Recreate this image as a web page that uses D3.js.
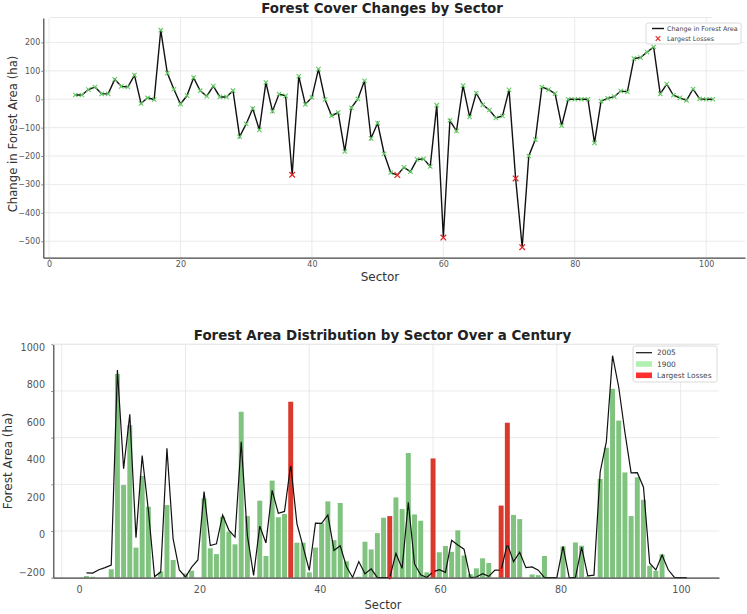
<!DOCTYPE html>
<html><head><meta charset="utf-8">
<script src="https://cdn.jsdelivr.net/npm/d3@7"></script>
<style>body{margin:0;background:#fff}svg{display:block}text{font-family:"DejaVu Sans",sans-serif}</style>
</head><body><svg id="c" width="747" height="614"></svg>
<script>
const sectors = [4,5,6,7,8,9,10,11,12,13,14,15,16,17,18,19,20,21,22,23,24,25,26,27,28,29,30,31,32,33,34,35,36,37,38,39,40,41,42,43,44,45,46,47,48,49,50,51,52,53,54,55,56,57,58,59,60,61,62,63,64,65,66,67,68,69,70,71,72,73,74,75,76,77,78,79,80,81,82,83,84,85,86,87,88,89,90,91,92,93,94,95,96,97,98,99,100,101];
const change = [15,15,34,43,19,19,70,45,43,85,-15,5,-1,243,92,35,-17,13,76,30,11,46,8,8,30,-132,-87,-33,-108,59,-42,18,12,-266,81,-18,6,106,-1,-58,-47,-184,-30,1,65,-138,-84,-192,-259,-267,-240,-255,-212,-210,-237,-21,-487,-75,-112,48,-62,22,-20,-38,-66,-59,33,-279,-521,-200,-142,43,34,20,-93,0,0,0,0,-154,-7,3,9,29,26,143,147,166,184,19,53,14,5,-4,36,1,0,0];
const area1900 = [7,4,0,0,36,873,397,654,129,436,304,0,26,311,76,0,18,30,0,340,126,101,261,197,143,711,264,0,330,93,416,259,273,754,150,150,23,129,233,327,161,320,70,0,4,154,121,191,257,264,344,294,534,271,244,23,511,109,136,111,203,95,15,40,83,63,0,309,664,269,251,0,14,11,93,0,0,134,0,151,137,5,2,423,557,809,673,451,264,430,334,51,29,100,0,0,0,0];
const area2005 = [21,20,34,43,54,890,467,700,171,523,289,5,24,554,166,33,3,45,76,369,138,145,269,204,174,582,180,10,221,149,374,276,284,485,232,133,31,234,233,269,117,137,48,1,69,17,38,0,0,0,104,40,323,59,12,1,25,34,23,160,140,122,0,3,17,6,33,32,145,69,109,43,46,32,0,0,0,134,0,0,131,8,11,453,583,951,816,622,449,450,388,62,33,97,34,1,0,0];
const lossSectors = [37,53,60,71,72];
const topYTicks = [-500,-400,-300,-200,-100,0,100,200];
const xTicks = [0,20,40,60,80,100];
const botGridTicks = [0,200,400,600,800,1000];
const botYLabels = [-200,0,200,400,600,800,1000];

const svg = d3.select("#c");
const isLoss = s => lossSectors.includes(s);
const grid = "#e4e4e4";
const fmt = d3.format("d");

// ---------- Top chart ----------
const x1 = d3.scaleLinear().domain([-0.87,105.9]).range([43.3,745]);
const y1 = d3.scaleLinear().domain([-558,286]).range([257.7,18]);
const g1 = svg.append("g");
g1.selectAll(".hg").data(topYTicks).join("line")
  .attr("x1",43.3).attr("x2",745).attr("y1",d=>y1(d)).attr("y2",d=>y1(d))
  .attr("stroke",grid).attr("stroke-width",0.8);
g1.selectAll(".vg").data(xTicks).join("line")
  .attr("x1",d=>x1(d)).attr("x2",d=>x1(d)).attr("y1",18).attr("y2",257.7)
  .attr("stroke",grid).attr("stroke-width",0.8);
g1.append("line").attr("x1",50).attr("x2",712).attr("y1",17.5).attr("y2",17.5).attr("stroke","#e8e8e8");

const ax1y = g1.append("g").attr("transform","translate(43.3,0)")
  .call(d3.axisLeft(y1).tickValues(topYTicks).tickFormat(fmt).tickSizeInner(2).tickSizeOuter(0).tickPadding(1));
const ax1x = g1.append("g").attr("transform","translate(0,257.7)")
  .call(d3.axisBottom(x1).tickValues(xTicks).tickFormat(fmt).tickSizeInner(2).tickSizeOuter(0).tickPadding(1.5));
[ax1y,ax1x].forEach(a=>{
  a.select(".domain").attr("stroke","#444").attr("stroke-width",1.2);
  a.selectAll(".tick line").attr("stroke","#888");
  a.selectAll("text").attr("font-size",8).attr("fill","#555").attr("font-family","DejaVu Sans");
});

const line1 = d3.line().x((d,i)=>x1(sectors[i])).y(d=>y1(d));
g1.append("path").datum(change).attr("d",line1).attr("fill","none").attr("stroke","#111").attr("stroke-width",1.4);
const xMark = (g, cx, cy, r, col, w) => {
  g.append("path").attr("d",`M${cx-r},${cy-r}L${cx+r},${cy+r}M${cx-r},${cy+r}L${cx+r},${cy-r}`)
   .attr("stroke",col).attr("stroke-width",w);
};
sectors.forEach((s,i)=>{
  if(isLoss(s)) xMark(g1, x1(s), y1(change[i]), 2.8, "#e02a2a", 1.3);
  else xMark(g1, x1(s), y1(change[i]), 2.2, "#62cc62", 1.1);
});

g1.append("text").attr("x",382).attr("y",13.3).attr("text-anchor","middle")
  .attr("font-size",13.4).attr("font-weight","bold").attr("fill","#222").text("Forest Cover Changes by Sector");
g1.append("text").attr("x",380).attr("y",281).attr("text-anchor","middle")
  .attr("font-size",12).attr("fill","#333").text("Sector");
g1.append("text").attr("transform","translate(17,134) rotate(-90)").attr("text-anchor","middle")
  .attr("font-size",11.7).attr("fill","#333").text("Change in Forest Area (ha)");

// top legend
const l1 = g1.append("g");
l1.append("rect").attr("x",646).attr("y",23).attr("width",95).attr("height",21).attr("rx",2)
  .attr("fill","#fff").attr("stroke","#d0d0d0").attr("stroke-width",0.8);
l1.append("line").attr("x1",652).attr("x2",664).attr("y1",28.5).attr("y2",28.5).attr("stroke","#111").attr("stroke-width",1.4);
xMark(l1, 658, 38.5, 2.3, "#e02a2a", 1.2);
l1.append("text").attr("x",667).attr("y",28.5).attr("dy","0.35em").attr("font-size",6.4).attr("fill","#444").text("Change in Forest Area");
l1.append("text").attr("x",667).attr("y",38.5).attr("dy","0.35em").attr("font-size",6.4).attr("fill","#444").text("Largest Losses");

// ---------- Bottom chart ----------
const x2 = d3.scaleLinear().domain([-1.36,106.2]).range([53.3,719]);
const y2 = d3.scaleLinear().domain([0,1000]).range([577.7,344.3]);
const xLab = d3.scaleLinear().domain([0,100]).range([79,681]);
const yLab = d3.scaleLinear().domain([-200,1000]).range([572,347]);
const g2 = svg.append("g");
g2.selectAll(".hg").data(botGridTicks).join("line")
  .attr("x1",53.3).attr("x2",719).attr("y1",d=>y2(d)).attr("y2",d=>y2(d))
  .attr("stroke",grid).attr("stroke-width",0.8);
g2.selectAll(".vg").data(xTicks).join("line")
  .attr("x1",d=>x2(d)).attr("x2",d=>x2(d)).attr("y1",344.3).attr("y2",577.7)
  .attr("stroke",grid).attr("stroke-width",0.8);

const bw = x2(0.4)-x2(-0.4);
g2.selectAll(".bar").data(sectors.map((s,i)=>({s,v:area1900[i]}))).join("rect")
  .attr("x",d=>x2(d.s)-bw/2).attr("width",bw)
  .attr("y",d=>y2(d.v)).attr("height",d=>y2(0)-y2(d.v))
  .attr("fill",d=>isLoss(d.s)?"#d93a2c":"#7fc37f");

const line2 = d3.line().x((d,i)=>x2(sectors[i])).y(d=>y2(d));
g2.append("path").datum(area2005).attr("d",line2).attr("fill","none").attr("stroke","#111").attr("stroke-width",1.2);
sectors.forEach((s,i)=>{ if(isLoss(s)) g2.append("circle").attr("cx",x2(s)).attr("cy",y2(area2005[i])).attr("r",1.8).attr("fill","#ff2020"); });

// spines and tick marks
const ax2y = g2.append("g").attr("transform","translate(53.3,0)")
  .call(d3.axisLeft(y2).tickValues(botGridTicks).tickSizeInner(2).tickSizeOuter(0).tickFormat(""));
const ax2x = g2.append("g").attr("transform","translate(0,577.7)")
  .call(d3.axisBottom(x2).tickValues([]).tickSizeOuter(0));
[ax2y,ax2x].forEach(a=>{ a.select(".domain").attr("stroke","#444").attr("stroke-width",1.2); a.selectAll(".tick line").attr("stroke","#888"); });
g2.append("line").attr("x1",53.3).attr("x2",719).attr("y1",344.3).attr("y2",344.3).attr("stroke","#e8e8e8");

// tick labels
const lab2y = g2.append("g").attr("transform","translate(45,0)")
  .call(d3.axisLeft(yLab).tickValues(botYLabels).tickFormat(fmt).tickSize(0).tickPadding(0));
const lab2x = g2.append("g").attr("transform","translate(0,578)")
  .call(d3.axisBottom(xLab).tickValues(xTicks).tickFormat(fmt).tickSize(0).tickPadding(8));
[lab2y,lab2x].forEach(a=>{ a.select(".domain").remove(); a.selectAll("text").attr("font-size",9.6).attr("fill","#555").attr("font-family","DejaVu Sans"); });

g2.append("text").attr("x",382.5).attr("y",340).attr("text-anchor","middle")
  .attr("font-size",13.4).attr("font-weight","bold").attr("fill","#222").text("Forest Area Distribution by Sector Over a Century");
g2.append("text").attr("x",383).attr("y",609).attr("text-anchor","middle")
  .attr("font-size",11.5).attr("fill","#333").text("Sector");
g2.append("text").attr("transform","translate(12,461) rotate(-90)").attr("text-anchor","middle")
  .attr("font-size",12).attr("fill","#333").text("Forest Area (ha)");

// bottom legend
const l2 = g2.append("g");
l2.append("rect").attr("x",633).attr("y",346).attr("width",84).attr("height",36).attr("rx",2)
  .attr("fill","#fff").attr("stroke","#d0d0d0").attr("stroke-width",0.8);
l2.append("line").attr("x1",636).attr("x2",652).attr("y1",352.7).attr("y2",352.7).attr("stroke","#111").attr("stroke-width",1.2);
l2.append("rect").attr("x",636).attr("y",361.2).attr("width",16).attr("height",5.6).attr("fill","#b2efb2");
l2.append("rect").attr("x",636).attr("y",372.5).attr("width",16).attr("height",5.6).attr("fill","#ff3030");
[["2005",352.7],["1900",364],["Largest Losses",375.3]].forEach(([t,y])=>{
  l2.append("text").attr("x",657).attr("y",y).attr("dy","0.35em").attr("font-size",7.4).attr("fill","#444").text(t);
});
</script></body></html>
